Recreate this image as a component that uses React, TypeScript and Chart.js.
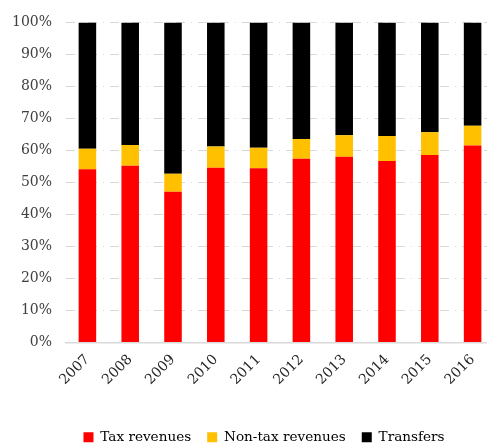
import React, { useEffect, useRef } from "react";
import { Chart, registerables } from "chart.js";

Chart.register(...registerables);

const years = ["2007", "2008", "2009", "2010", "2011", "2012", "2013", "2014", "2015", "2016"];
const taxRevenues = [54.1, 55.2, 47.1, 54.6, 54.4, 57.4, 58.0, 56.7, 58.6, 61.5];
const nonTaxRevenues = [6.4, 6.5, 5.6, 6.6, 6.4, 6.2, 6.7, 7.8, 7.1, 6.2];
const transfers = [39.5, 38.3, 47.3, 38.8, 39.2, 36.4, 35.3, 35.5, 34.3, 32.3];
const seriesNames = ["Tax revenues", "Non-tax revenues", "Transfers"];
const seriesColors = ["#ff0000", "#ffc000", "#000000"];

const legendShift = {
  id: "legendShift",
  afterLayout(chart: any) {
    const lg = chart.legend;
    if (lg) {
      lg.left += 17;
      lg.right += 17;
    }
  },
};

export default function App() {
  const ref = useRef<HTMLCanvasElement>(null);

  useEffect(() => {
    const values = [taxRevenues, nonTaxRevenues, transfers];
    const chart = new Chart(ref.current!, {
      type: "bar",
      data: {
        labels: years,
        datasets: values.map((d, i) => ({
          label: seriesNames[i],
          data: d,
          backgroundColor: seriesColors[i],
          borderWidth: 0,
          categoryPercentage: 1,
          barPercentage: 0.41,
        })),
      },
      options: {
        responsive: false,
        animation: false,
        devicePixelRatio: 1,
        layout: { padding: { left: 0, top: 22, right: 0, bottom: 0 } },
        scales: {
          x: {
            stacked: true,
            grid: { display: false, drawTicks: false },
            border: { display: true, color: "#d9d9d9", width: 1.5 },
            ticks: {
              minRotation: 45,
              maxRotation: 45,
              padding: 9,
              font: { family: "DejaVu Serif", size: 14 },
              color: "#262626",
            },
            afterFit: (s: any) => {
              s.height = 72;
            },
          },
          y: {
            stacked: true,
            min: 0,
            max: 100,
            ticks: {
              stepSize: 10,
              padding: 14,
              callback: (v: any) => v + "%",
              font: { family: "DejaVu Serif", size: 14 },
              color: "#404040",
            },
            grid: { color: "#d9d9d9", lineWidth: 1, drawTicks: false },
            border: { display: false, dash: [9, 6, 1, 6] },
            afterFit: (s: any) => {
              s.width = 66;
            },
          },
        },
        plugins: {
          legend: {
            position: "bottom",
            labels: {
              boxWidth: 10,
              boxHeight: 10,
              padding: 16,
              font: { family: "DejaVu Serif", size: 13.6 },
              color: "#000",
            },
          },
          tooltip: { enabled: false },
        },
      },
      plugins: [legendShift],
    });
    return () => chart.destroy();
  }, []);

  return (
    <div
      style={{
        position: "fixed",
        left: 0,
        top: 0,
        width: 487,
        height: 444,
        overflow: "hidden",
        background: "#fff",
      }}
    >
      <canvas ref={ref} width={494} height={454} style={{ display: "block", width: 494, height: 454 }} />
    </div>
  );
}
